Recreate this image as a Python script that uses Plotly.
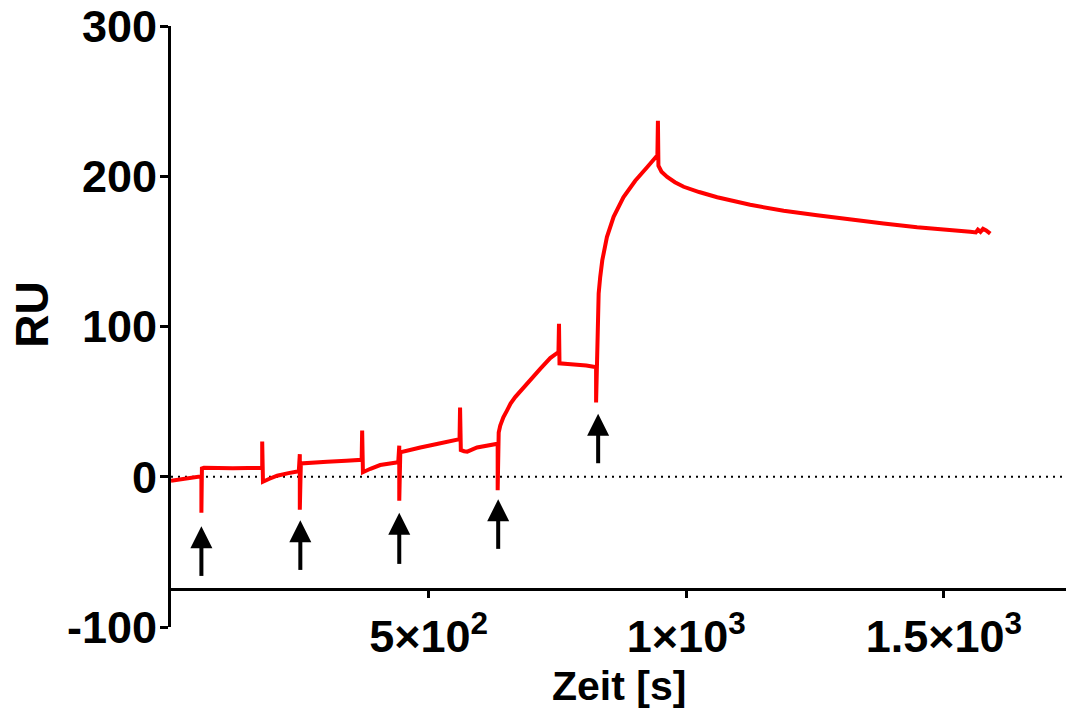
import plotly.graph_objects as go

# Sensorgram: response (RU) versus time (s), five sequential injections
time_s = [
    0, 10, 25, 40, 56,
    59, 59, 60, 64, 90, 120, 150, 177,
    177, 178.5, 190, 206, 228, 248,
    250, 250, 252, 270, 303, 340, 370,
    371, 372.5, 387, 406, 425, 441,
    443, 443, 445, 465, 484, 516, 540, 560,
    561, 562.5, 569, 575, 594, 615, 632,
    634, 634, 636, 639, 645, 652, 659, 668, 678, 690, 703, 717, 736, 752,
    753, 754, 770, 788, 806, 823,
    825, 825, 826.5, 827.5, 830, 833, 837, 846, 859, 878, 901, 924, 944,
    945, 946, 952, 963, 978, 995, 1025, 1060, 1124, 1189, 1254, 1318, 1383,
    1448, 1512, 1551, 1562, 1566, 1571, 1576, 1582, 1590,
]
response_ru = [
    -2.7, -2.2, -1.5, -0.8, 0.0,
    0.3, -24.0, 5.5, 6.0, 5.6, 5.6, 5.8, 5.9,
    23.5, -3.3, -1.5, 0.7, 2.4, 3.6,
    15.0, -22.0, 8.9, 9.5, 10.0, 10.7, 11.3,
    30.7, 3.0, 5.3, 7.8, 8.8, 9.6,
    20.7, -16.0, 16.2, 18.0, 19.5, 21.8, 23.5, 25.0,
    46.0, 17.8, 17.0, 16.7, 19.5, 20.7, 21.3,
    22.0, -9.0, 29.5, 34.0, 39.5, 44.0, 48.7, 53.0, 57.0, 62.0, 67.0, 72.0, 79.0, 83.0,
    101.8, 75.5, 75.0, 74.7, 74.0, 73.0,
    73.0, 49.5, 83.0, 99.5, 122.0, 133.0, 144.0, 159.5, 173.0, 186.0, 197.0, 206.0, 214.0,
    237.0, 207.0, 203.0, 199.5, 196.0, 193.0, 189.5, 186.0, 181.0, 177.0, 174.0, 171.0, 168.5,
    166.0, 164.5, 163.0, 162.6, 164.5, 163.0, 165.0, 164.0, 161.8,
]

# Injection start markers (arrows pointing up at each injection)
injection_t = [59, 251, 443, 635, 829]
arrow_tip_ru = [-33, -29, -24, -15, 42]
arrow_tail_ru = [-66, -62, -58, -48, 9]

y_ticks = [-100, 0, 100, 200, 300]
y_tick_text = ["-100", "0", "100", "200", "300"]
x_ticks = [500, 1000, 1500]
x_tick_text = ["5×10<sup>2</sup>", "1×10<sup>3</sup>", "1.5×10<sup>3</sup>"]

FONT = "Arial, Liberation Sans, sans-serif"

fig = go.Figure()

# Dotted zero baseline
fig.add_shape(type="line", xref="paper", x0=0, x1=1, yref="y", y0=0, y1=0,
              line=dict(color="black", width=2, dash="2px,5px"), layer="below")

fig.add_trace(go.Scatter(
    x=time_s, y=response_ru, mode="lines",
    line=dict(color="#ff0000", width=4),
    showlegend=False, hoverinfo="skip",
))

# Arrow shafts
for t, tip, tail in zip(injection_t, arrow_tip_ru, arrow_tail_ru):
    fig.add_trace(go.Scatter(
        x=[t, t], y=[tail, tip - 8], mode="lines",
        line=dict(color="black", width=4),
        showlegend=False, hoverinfo="skip",
    ))

# Arrow heads (tip of the arrow-up symbol sits on the data point)
fig.add_trace(go.Scatter(
    x=injection_t, y=arrow_tip_ru, mode="markers",
    marker=dict(symbol="arrow-up", size=22, color="black", line=dict(width=0)),
    showlegend=False, hoverinfo="skip",
))

fig.add_annotation(text="RU", xref="paper", yref="paper", x=-0.155, y=0.52,
                   xanchor="center", yanchor="middle", textangle=-90, showarrow=False,
                   font=dict(family=FONT, size=46, color="black", weight="bold"))
fig.add_annotation(text="Zeit [s]", xref="paper", yref="paper", x=0.5, y=-0.098,
                   xanchor="center", yanchor="middle", showarrow=False,
                   font=dict(family=FONT, size=41, color="black", weight="bold"))

fig.update_layout(
    width=1066, height=709,
    margin=dict(l=171, r=0, t=26, b=82),
    paper_bgcolor="white", plot_bgcolor="white",
    xaxis=dict(
        range=[0, 1737], anchor="free", position=0.0625,
        showline=True, linecolor="black", linewidth=3,
        ticks="outside", ticklen=7, tickwidth=3, tickcolor="black",
        tickvals=x_ticks, ticktext=x_tick_text,
        tickfont=dict(family=FONT, size=45, color="black", weight="bold"),
        showgrid=False, zeroline=False,
    ),
    yaxis=dict(
        range=[-100, 300],
        showline=True, linecolor="black", linewidth=3,
        ticks="outside", ticklen=8, tickwidth=3, tickcolor="black",
        ticklabelstandoff=-6,
        tickvals=y_ticks, ticktext=y_tick_text,
        tickfont=dict(family=FONT, size=45, color="black", weight="bold"),
        showgrid=False, zeroline=False,
    ),
)

fig.write_html("out.html")
